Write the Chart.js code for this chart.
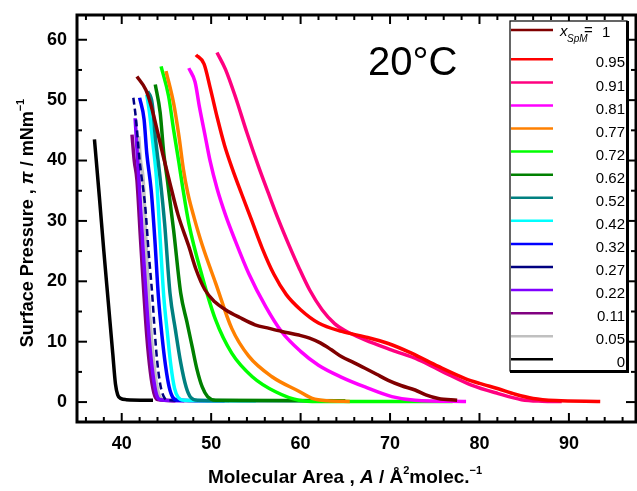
<!DOCTYPE html>
<html><head><meta charset="utf-8">
<script src="https://cdn.jsdelivr.net/npm/chart.js@4.4.1/dist/chart.umd.min.js"></script>
<style>html,body{margin:0;padding:0;background:#fff;overflow:hidden}</style>
</head><body>
<canvas id="c" width="637" height="491"></canvas>
<script>
// ---- series names and colours ----
const seriesLabels = ['1','0.95','0.91','0.81','0.77','0.72','0.62','0.52','0.42','0.32','0.27','0.22','0.11','0.05','0'];
const seriesColors = ['#800000','#ff0000','#ff0080','#ff00ff','#ff8000','#00ff00','#008000','#008080','#00ffff','#0000ff','#000080','#8000ff','#800080','#c0c0c0','#000000'];

// ---- isotherms: molecular area (A) and surface pressure (p) ----
const a100 = [41.7,42.7,43.3,43.9,44.6,45.3,46.3,47.5,48.3,49.3,50.4,51.6,53.2,54.9,56.5,57.9,59.8,61.0,62.2,63.4,64.6,66.0,67.2,68.5,69.8,71.3,72.8,74.0,75.4,77.5];
const p100 = [53.9,51.7,49.0,45.4,41.0,36.8,31.0,25.8,22.0,18.6,16.6,15.3,14.0,12.8,12.2,11.7,11.1,10.6,9.8,8.7,7.5,6.5,5.6,4.6,3.6,2.7,2.0,1.2,0.6,0.3];

const a095 = [48.3,49.2,49.9,50.7,51.5,52.4,53.4,54.5,55.7,57.0,58.4,60.0,62.0,64.6,67.2,69.8,72.4,75.4,78.4,80.0,82.1,84.0,86.0,88.5,93.5];
const p095 = [57.5,56.0,52.0,47.0,42.5,38.5,34.5,30.2,25.5,21.2,17.8,15.3,13.1,11.7,10.8,9.7,8.1,5.9,3.9,3.1,2.2,1.3,0.6,0.25,0.1];

const a091 = [50.65,51.6,52.7,54.0,55.3,56.4,57.5,58.7,59.8,61.0,62.4,63.8,65.0,67.2,70.2,73.2,76.2,79.1,82.1,84.7,87.0,89.2];
const p091 = [57.9,55.1,50.6,44.6,39.0,34.6,30.3,26.0,22.3,18.6,15.3,13.0,11.8,10.3,8.6,7.0,4.8,2.8,1.4,0.4,0.15,0.1];

const a081 = [47.5,48.2,48.7,49.3,49.9,50.65,51.6,52.7,54.2,56.1,57.9,60.0,62.0,64.6,67.2,70.2,72.8,78.5];
const p081 = [55.3,53.0,48.8,44.3,39.8,35.4,31.0,26.7,21.3,15.8,11.6,8.4,6.1,4.1,2.5,0.9,0.3,0.1];

const a077 = [44.95,45.8,46.4,46.9,47.4,48.1,49.0,50.5,52.3,54.2,56.8,59.8,61.3,63.0,65.5];
const p077 = [54.8,49.5,44.0,38.5,34.5,30.5,26.0,19.7,12.2,7.6,4.2,1.8,0.6,0.2,0.1];

const a072 = [44.4,45.25,45.8,46.4,46.8,47.5,49.0,50.5,52.3,54.6,57.2,59.8,62.0,77.0];
const p072 = [55.6,50.6,45.1,39.6,35.7,29.6,20.8,13.6,8.1,4.2,1.7,0.3,0.1,0.1];

const a062 = [43.75,44.3,44.7,45.1,45.8,46.6,47.3,47.9,48.4,49.0,49.6,50.5,65.0];
const p062 = [52.6,47.9,41.2,36.8,28.5,18.0,13.2,9.0,5.5,2.5,0.9,0.3,0.2];

const a052 = [42.9,43.4,43.75,44.3,44.8,45.4,46.0,46.6,47.2,47.7,48.5,61.0];
const p052 = [51.5,49.5,44.0,37.0,29.5,18.0,12.0,6.5,2.5,0.8,0.3,0.2];

const a042 = [42.8,43.1,43.4,43.9,44.3,44.7,45.1,45.5,45.9,46.3,47.0,55.0];
const p042 = [50.9,48.0,44.0,36.8,27.0,17.5,11.5,6.0,2.3,0.8,0.3,0.2];

const a032 = [42.0,42.5,42.8,43.3,43.7,44.1,44.5,44.9,45.3,45.7,46.3,51.5];
const p032 = [50.4,46.8,41.2,35.0,27.0,17.5,11.0,6.0,2.5,0.8,0.3,0.2];

const a027 = [41.3,41.6,42.0,42.65,43.0,43.4,43.7,43.95,44.3,44.7,45.2,48.0];
const p027 = [50.4,46.8,40.0,32.0,25.0,18.0,11.5,7.0,3.0,0.9,0.3,0.2];

const a022 = [41.5,41.7,42.0,42.4,42.8,43.1,43.5,43.9,44.3,47.0];
const p022 = [47.0,42.0,35.0,25.0,16.0,10.0,4.5,1.2,0.4,0.2];

const a011 = [41.15,41.4,41.7,42.1,42.5,42.8,43.2,43.6,44.0,46.0];
const p011 = [44.3,40.0,36.8,27.0,17.5,11.0,5.0,1.5,0.4,0.2];

const a005 = [41.9,42.1,42.4,42.7,43.0,43.3,43.7,44.1,44.6,52.0];
const p005 = [44.0,40.0,36.8,27.0,17.5,11.0,5.0,1.5,0.4,0.2];

const a000 = [36.95,37.5,38.0,38.5,39.0,39.3,39.55,39.9,40.5,43.5];
const p000 = [43.5,34.0,25.0,16.5,8.0,3.0,1.2,0.6,0.4,0.3];

const seriesArea = [a100,a095,a091,a081,a077,a072,a062,a052,a042,a032,a027,a022,a011,a005,a000];
const seriesPi   = [p100,p095,p091,p081,p077,p072,p062,p052,p042,p032,p027,p022,p011,p005,p000];

// ---- ticks ----
const xMajor = [40,50,60,70,80,90];
const xTickLabels = ['40','50','60','70','80','90'];
const xMinor = [36,38,42,44,46,48,52,54,56,58,62,64,66,68,72,74,76,78,82,84,86,88,92,94,96];
const yMajor = [0,10,20,30,40,50,60];
const yTickLabels = ['0','10','20','30','40','50','60'];
const yMinor = [5,15,25,35,45,55];

const FONT = "'Liberation Sans', Arial, sans-serif";

const datasets = seriesLabels.map((lab, i) => ({
  label: lab,
  data: seriesArea[i].map((a, j) => ({x: a, y: seriesPi[i][j]})),
  borderColor: seriesColors[i],
  backgroundColor: seriesColors[i],
  borderWidth: lab === '0.27' ? 2.5 : 3.5,
  borderDash: lab === '0.27' ? [7, 4] : [],
  pointRadius: 0,
  showLine: true,
  fill: false,
  cubicInterpolationMode: 'monotone'
}));

function drawRich(ctx, segs, cx, cy, rot) {
  ctx.save();
  ctx.translate(cx, cy);
  ctx.rotate(rot);
  let total = 0;
  segs.forEach(s => { ctx.font = s.f; s.w = ctx.measureText(s.t).width; total += s.w; });
  let x = -total / 2;
  ctx.textBaseline = 'middle';
  ctx.textAlign = 'left';
  ctx.fillStyle = '#000';
  segs.forEach(s => { ctx.font = s.f; ctx.fillText(s.t, x, s.dy || 0); x += s.w; });
  ctx.restore();
}

const decor = {
  id: 'decor',
  afterDatasetsDraw(chart) {
    const ctx = chart.ctx, ca = chart.chartArea, xs = chart.scales.x, ys = chart.scales.y;
    ctx.save();
    ctx.strokeStyle = '#000';
    ctx.lineWidth = 2;
    const seg = (x1, y1, x2, y2) => { ctx.beginPath(); ctx.moveTo(x1, y1); ctx.lineTo(x2, y2); ctx.stroke(); };
    xs.ticks.forEach(t => {
      const px = xs.getPixelForValue(t.value);
      const len = xMajor.includes(t.value) ? 9 : 5;
      seg(px, ca.bottom, px, ca.bottom - len);
      seg(px, ca.top, px, ca.top + len);
    });
    ys.ticks.forEach(t => {
      const py = ys.getPixelForValue(t.value);
      const len = yMajor.includes(t.value) ? 10 : 5;
      seg(ca.left, py, ca.left + len, py);
      seg(ca.right, py, ca.right - len, py);
    });
    ctx.lineWidth = 3;
    ctx.strokeRect(ca.left, ca.top, ca.right - ca.left, ca.bottom - ca.top);

    // legend box
    const L = 510, T = 21, R = 627, B = 371;
    ctx.fillStyle = '#fff';
    ctx.fillRect(L, T, R - L, B - T);
    ctx.lineWidth = 1.2;
    ctx.strokeRect(L, T, R - L, B - T);
    ctx.lineWidth = 3;
    seg(L, B + 0.5, R + 1.5, B + 0.5);
    seg(R + 0.5, T, R + 0.5, B + 2);
    chart.data.datasets.forEach((ds, i) => {
      const y = i === 0 ? 30 : 59.3 + (i - 1) * 23.08;
      ctx.strokeStyle = ds.borderColor;
      ctx.lineWidth = 2.5;
      ctx.setLineDash([]);
      seg(511, y, 553, y);
      ctx.fillStyle = '#000';
      ctx.textBaseline = 'middle';
      if (i === 0) {
        ctx.textAlign = 'left';
        ctx.font = 'italic 15px ' + FONT;
        ctx.fillText('x', 560, y + 2);
        ctx.font = 'italic 10px ' + FONT;
        ctx.fillText('SpM', 567, y + 9);
        ctx.font = '15px ' + FONT;
        ctx.fillText('=', 584, y + 1);
        ctx.fillText(ds.label, 602, y + 3);
      } else {
        ctx.textAlign = 'right';
        ctx.font = '15px ' + FONT;
        ctx.fillText(ds.label, 625, y + 4);
      }
    });

    // temperature label
    ctx.fillStyle = '#000';
    ctx.textAlign = 'left';
    ctx.textBaseline = 'alphabetic';
    ctx.font = '40px ' + FONT;
    ctx.fillText('20°C', 368, 75);

    // axis titles
    const b19 = 'bold 19px ' + FONT, s11 = 'bold 11px ' + FONT;
    drawRich(ctx, [
      {t: 'Molecular Area , ', f: b19},
      {t: 'A', f: 'italic ' + b19},
      {t: ' / Å', f: b19},
      {t: '2', f: s11, dy: -7},
      {t: 'molec.', f: b19},
      {t: '−1', f: s11, dy: -7}
    ], 345, 478, 0);
    const b18 = 'bold 18px ' + FONT, s10 = 'bold 11px ' + FONT;
    drawRich(ctx, [
      {t: 'Surface Pressure , ', f: b18},
      {t: 'π', f: 'italic ' + b18},
      {t: ' / mNm', f: b18},
      {t: '−1', f: s10, dy: -7}
    ], 28, 223, -Math.PI / 2);
    ctx.restore();
  }
};

new Chart(document.getElementById('c'), {
  type: 'scatter',
  data: { datasets },
  options: {
    responsive: false,
    animation: false,
    layout: { padding: { left: 0, right: 1, top: 15, bottom: 0 } },
    plugins: { legend: { display: false }, tooltip: { enabled: false } },
    scales: {
      x: {
        type: 'linear', min: 35, max: 97.5,
        afterBuildTicks: s => { s.ticks = [...xMajor, ...xMinor].sort((a, b) => a - b).map(v => ({value: v})); },
        afterFit: s => { s.height = 69; s.paddingLeft = 0; s.paddingRight = 0; },
        grid: { display: false, drawTicks: false },
        border: { display: false },
        ticks: {
          autoSkip: false, maxRotation: 0, minRotation: 0, padding: 11, color: '#000',
          font: { family: FONT, size: 18, weight: 'bold' },
          callback: v => { const k = xMajor.indexOf(v); return k >= 0 ? xTickLabels[k] : ''; }
        }
      },
      y: {
        type: 'linear', min: -3.3, max: 64.1,
        afterBuildTicks: s => { s.ticks = [...yMajor, ...yMinor].sort((a, b) => a - b).map(v => ({value: v})); },
        afterFit: s => { s.width = 77; s.paddingTop = 0; s.paddingBottom = 0; },
        grid: { display: false, drawTicks: false },
        border: { display: false },
        ticks: {
          autoSkip: false, padding: 10, color: '#000',
          font: { family: FONT, size: 18, weight: 'bold' },
          callback: v => { const k = yMajor.indexOf(v); return k >= 0 ? yTickLabels[k] : ''; }
        }
      }
    }
  },
  plugins: [decor]
});
</script>
</body></html>
